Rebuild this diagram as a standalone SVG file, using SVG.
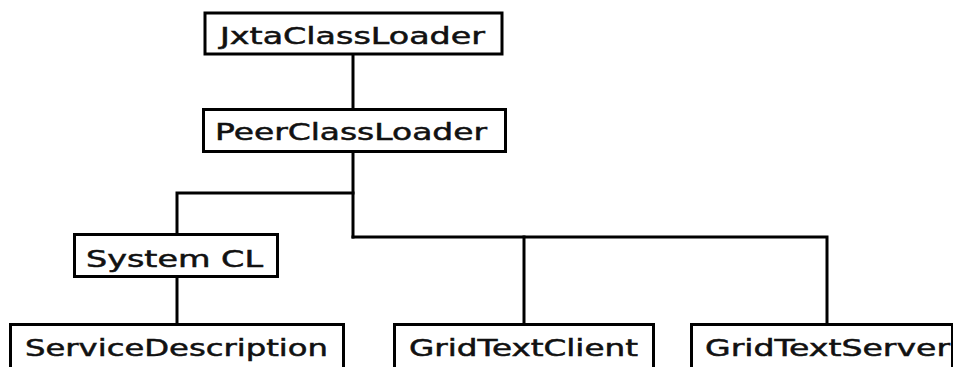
<svg xmlns="http://www.w3.org/2000/svg" width="953" height="367" viewBox="0 0 953 367">
  <style>
    .box { fill: #ffffff; stroke: #000000; stroke-width: 3; }
    .lbl { font-family: "DejaVu Sans", "Liberation Sans", sans-serif; font-size: 23px; fill: #111111; stroke: #111111; stroke-width: 0.5; }
    .link { fill: none; stroke: #000000; stroke-width: 3; stroke-linecap: square; }
  </style>
  <rect width="953" height="367" fill="#ffffff"/>

  <!-- tree connectors -->
  <g id="connectors">
    <path class="link" d="M353 55 V108"/>
    <path class="link" d="M353 153 V237"/>
    <path class="link" d="M177 233 V193 H353"/>
    <path class="link" d="M177 278 V323"/>
    <path class="link" d="M353 237 H827 V323"/>
    <path class="link" d="M524 237 V323"/>
  </g>

  <g id="jxta-class-loader">
    <rect class="box" x="205" y="13" width="297" height="41"/>
    <text class="lbl" x="220" y="44" textLength="265" lengthAdjust="spacingAndGlyphs">JxtaClassLoader</text>
  </g>

  <g id="peer-class-loader">
    <rect class="box" x="203.5" y="109.5" width="302" height="42"/>
    <text class="lbl" x="215" y="140" textLength="272" lengthAdjust="spacingAndGlyphs">PeerClassLoader</text>
  </g>

  <g id="system-cl">
    <rect class="box" x="74.5" y="234.5" width="203" height="42"/>
    <text class="lbl" x="86" y="267" textLength="177" lengthAdjust="spacingAndGlyphs">System CL</text>
  </g>

  <g id="service-description">
    <rect class="box" x="10.5" y="324.5" width="333" height="50"/>
    <text class="lbl" x="25" y="356" textLength="303" lengthAdjust="spacingAndGlyphs">ServiceDescription</text>
  </g>

  <g id="grid-text-client">
    <rect class="box" x="394.5" y="324.5" width="259" height="50"/>
    <text class="lbl" x="409" y="356" textLength="229" lengthAdjust="spacingAndGlyphs">GridTextClient</text>
  </g>

  <g id="grid-text-server">
    <rect class="box" x="691.5" y="324.5" width="261" height="50"/>
    <text class="lbl" x="705" y="356" textLength="245" lengthAdjust="spacingAndGlyphs">GridTextServer</text>
  </g>
</svg>
